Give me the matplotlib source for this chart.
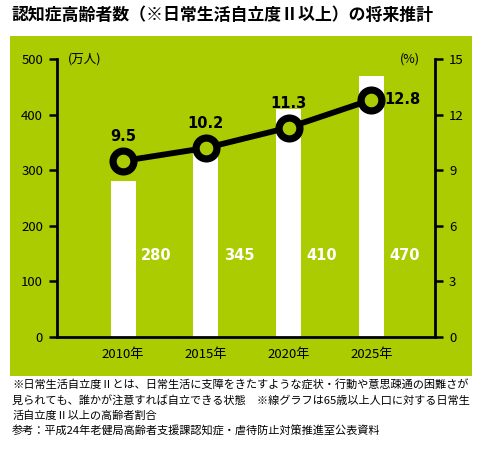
import matplotlib.pyplot as plt
from matplotlib.patches import Rectangle

plt.rcParams['font.family'] = ['Noto Sans CJK JP', 'DejaVu Sans']

# datos
years = ['2010年', '2015年', '2020年', '2025年']
people = [280, 345, 410, 470]          # 万人
ratio = [9.5, 10.2, 11.3, 12.8]         # %
left_ticks = [0, 100, 200, 300, 400, 500]
right_ticks = [0, 3, 6, 9, 12, 15]

title = '認知症高齢者数（※日常生活自立度Ⅱ以上）の将来推計'
notes = [
    '※日常生活自立度Ⅱとは、日常生活に支障をきたすような症状・行動や意思疎通の困難さが',
    '見られても、誰かが注意すれば自立できる状態　※線グラフは65歳以上人口に対する日常生',
    '活自立度Ⅱ以上の高齢者割合',
    '参考：平成24年老健局高齢者支援課認知症・虐待防止対策推進室公表資料',
]

green = '#aacc00'
W, H = 480, 457

fig = plt.figure(figsize=(W / 100, H / 100), dpi=100)
fig.patch.set_facecolor('white')
fig.patches.append(Rectangle((10 / W, 1 - 376 / H), 462 / W, 340 / H,
                             transform=fig.transFigure, facecolor=green,
                             edgecolor='none', zorder=-5))

ax = fig.add_axes([57 / W, 1 - 337 / H, 378 / W, 278 / H])
ax.set_facecolor('none')
x = list(range(len(years)))
ax.bar(x, people, width=0.3, color='white', zorder=2)
ax.set_xlim(-0.8, 3.77)
ax.set_ylim(0, 500)
ax.set_yticks(left_ticks)
ax.set_xticks(x)
ax.set_xticklabels(years, fontsize=9.5)
ax.tick_params(axis='x', length=0, pad=8)
ax.tick_params(axis='y', direction='out', length=6, width=1.8, labelsize=9.5, pad=4)
for s in ['top', 'right']:
    ax.spines[s].set_visible(False)
for s in ['left', 'bottom']:
    ax.spines[s].set_linewidth(2)
for i, v in enumerate(people):
    ax.text(i + 0.4, 146, str(v), color='white', fontsize=10.5,
            fontweight='bold', ha='center', va='center',
            family='DejaVu Sans', zorder=3)
ax.text(0.03, 1.0, '(万人)', transform=ax.transAxes, fontsize=9,
        ha='left', va='center')

ax2 = ax.twinx()
ax2.set_ylim(0, 15)
ax2.set_yticks(right_ticks)
ax2.tick_params(axis='y', direction='out', length=6, width=1.8, labelsize=9.5, pad=4)
for s in ['top', 'left', 'bottom']:
    ax2.spines[s].set_visible(False)
ax2.spines['right'].set_linewidth(2)
ax2.plot(x, ratio, color='black', lw=4.2, marker='o', ms=15, mew=5.2,
         mfc=green, mec='black', zorder=4, solid_capstyle='round')
for i, v in enumerate(ratio):
    if i == len(ratio) - 1:
        ax2.text(i + 0.38, v, f'{v}', fontsize=10.5, fontweight='bold',
                 ha='center', va='center', family='DejaVu Sans')
    else:
        ax2.text(i, v + 1.3, f'{v}', fontsize=10.5, fontweight='bold',
                 ha='center', va='center', family='DejaVu Sans')
ax2.text(0.96, 1.0, '(%)', transform=ax2.transAxes, fontsize=9,
         ha='right', va='center')

fig.text(12 / W, 1 - 15 / H, title, fontsize=12.2, fontweight='bold',
         ha='left', va='center')
for k, line in enumerate(notes):
    fig.text(12 / W, 1 - (385 + 15.5 * k) / H, line, fontsize=8.05,
             ha='left', va='center')

fig.savefig('out.png', dpi=100)
